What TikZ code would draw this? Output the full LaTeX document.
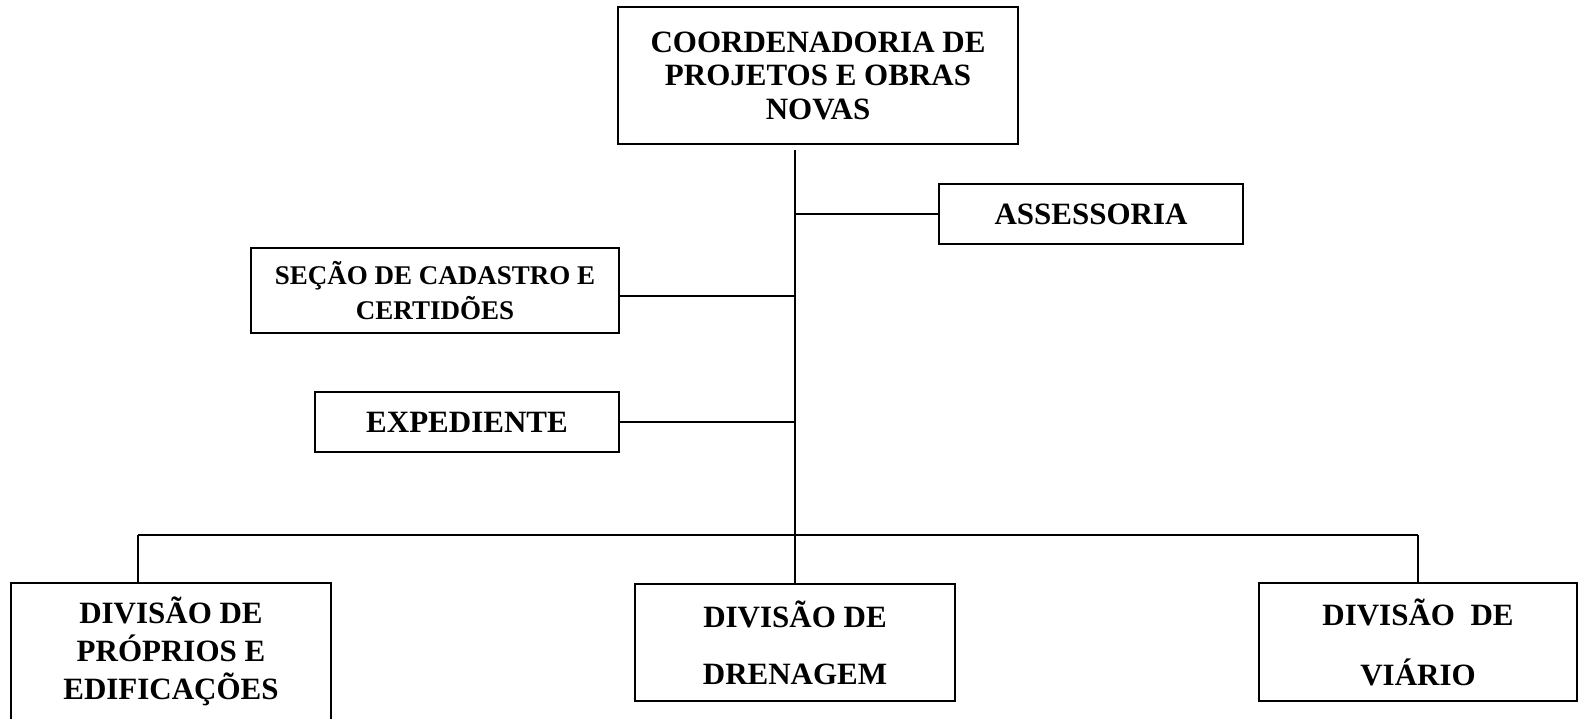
\documentclass[tikz,border=0pt]{standalone}
\usepackage{fontspec}
\setmainfont{Liberation Serif}
\usetikzlibrary{calc}

\begin{document}
\begin{tikzpicture}[x=1pt,y=-1pt,
    box/.style={draw,line width=2.4pt,align=center,inner sep=0pt,font=\bfseries\fontsize{31}{38}\selectfont},
    link/.style={line width=2.3pt}]
        \clip (0,0) rectangle (1578,718);
        \node[box,minimum width=400,minimum height=137,font=\bfseries\fontsize{31}{33.5}\selectfont] (coord) at (818,75.5) {COORDENADORIA DE\\PROJETOS E OBRAS\\NOVAS};
        \node[box,minimum width=304,minimum height=60] (assess) at (1091,214) {ASSESSORIA};
        \node[box,minimum width=368,minimum height=85,font=\bfseries\fontsize{27}{35}\selectfont] (secao) at (435,290.5) {SEÇÃO DE CADASTRO E\\CERTIDÕES};
        \node[box,minimum width=304,minimum height=60] (exped) at (467,422) {EXPEDIENTE};
        \node[box,minimum width=320,minimum height=137] (proprios) at (171,651.5) {DIVISÃO DE\\PRÓPRIOS E\\EDIFICAÇÕES};
        \node[box,minimum width=320,minimum height=117,font=\bfseries\fontsize{31}{57}\selectfont] (drenagem) at (795,642.5) {DIVISÃO DE\\DRENAGEM};
        \node[box,minimum width=318,minimum height=118,font=\bfseries\fontsize{31}{60}\selectfont] (viario) at (1418,642) {DIVISÃO\ \ DE\\VIÁRIO};
        \coordinate (spinetop) at (795,150);
        \coordinate (busleft) at (138,535);
        \coordinate (busright) at (viario.north|-busleft);
        \coordinate (secaolink) at ($(secao.east)+(0,5.5)$);
        \draw[link] (spinetop)--(drenagem.north);
        \draw[link] (spinetop|-assess.west)--(assess.west);
        \draw[link] (spinetop|-secaolink)--(secaolink);
        \draw[link] (spinetop|-exped.east)--(exped.east);
        \draw[link] (busleft)--(busright);
        \draw[link] (busleft)--(busleft|-proprios.north);
        \draw[link] (busright)--(viario.north);
      \end{tikzpicture}
\end{document}
